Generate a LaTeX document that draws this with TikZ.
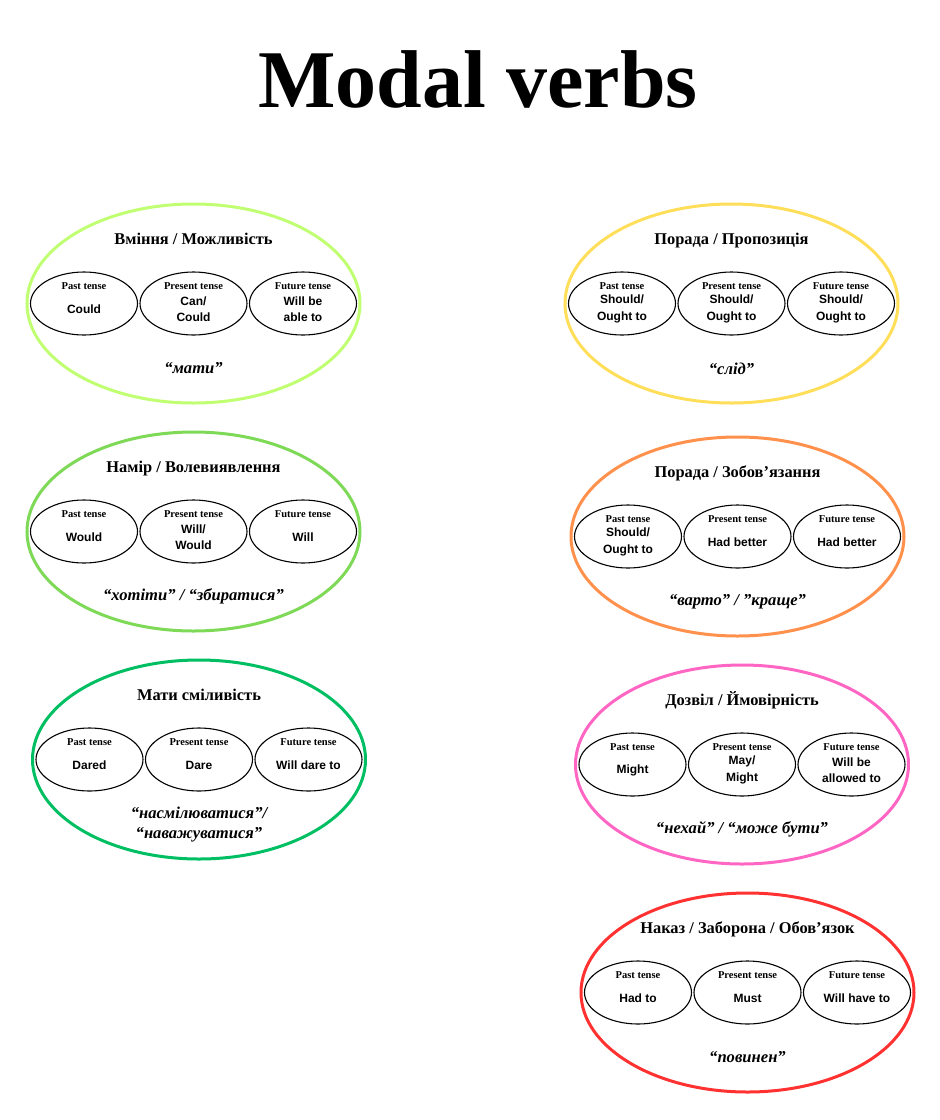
\documentclass[tikz,border=0pt]{standalone}
\usepackage{fontspec}
\setmainfont{Liberation Serif}
\newfontfamily\contfont{Liberation Sans}
\usetikzlibrary{shapes.geometric}
\definecolor{clime}{HTML}{C1FF72}
\definecolor{cyellow}{HTML}{FFDE59}
\definecolor{cgreen}{HTML}{7ED957}
\definecolor{corange}{HTML}{FF914D}
\definecolor{cdkgreen}{HTML}{00BF63}
\definecolor{cpink}{HTML}{FF66C4}
\definecolor{cred}{HTML}{FF3131}
\tikzset{
  bigell/.style={ellipse, draw=#1, line width=3pt, minimum width=333pt, minimum height=199pt, inner sep=0pt},
  smallell/.style={ellipse, draw=black, line width=1.1pt, minimum width=107pt, minimum height=63pt, inner sep=0pt},
  headtxt/.style={font=\bfseries\fontsize{16.4}{19}\selectfont, anchor=base, inner sep=0pt},
  tensetxt/.style={font=\bfseries\fontsize{10.5}{12}\selectfont, anchor=base, inner sep=0pt},
  wordtxt/.style={font=\contfont\bfseries\fontsize{12}{16.5}\selectfont, align=center, inner sep=0pt},
  glosstxt/.style={font=\bfseries\itshape\fontsize{16.6}{19.5}\selectfont, align=center, inner sep=0pt},
}
% #1 name, #2 cx, #3 cy, #4 colour, #5 heading, #6 past, #7 present, #8 future, #9 gloss
\newcommand\mvgroup[9]{%
  \node[bigell=#4] (#1) at (#2,#3) {};
  \node[headtxt] (#1-head) at (#2,#3-59.5) {#5};
  \node[smallell] (#1-past) at (#2-109.5,#3) {};
  \node[smallell] (#1-pres) at (#2,#3) {};
  \node[smallell] (#1-fut) at (#2+109.5,#3) {};
  \node[tensetxt] (#1-pastl) at (#2-109.5,#3-14.5) {Past tense};
  \node[tensetxt] (#1-presl) at (#2,#3-14.5) {Present tense};
  \node[tensetxt] (#1-futl) at (#2+109.5,#3-14.5) {Future tense};
  \node[wordtxt] (#1-pastw) at (#2-109.5,#3+5.5) {#6};
  \node[wordtxt] (#1-presw) at (#2,#3+5.5) {#7};
  \node[wordtxt] (#1-futw) at (#2+109.5,#3+5.5) {#8};
  \node[glosstxt] (#1-gloss) at (#2,#3+65) {#9};
}
\begin{document}
\begin{tikzpicture}[x=1pt,y=-1pt]
\path[use as bounding box] (0,0) rectangle (940,1120);
\node[font=\bfseries\fontsize{82}{86}\selectfont, anchor=base, inner sep=0pt] (title) at (478,107) {Modal verbs};
\mvgroup{g1}{193.5}{303.5}{clime}{Вміння / Можливість}{Could}{Can/\\Could}{Will be\\able to}{“мати”}
\mvgroup{g2}{731.5}{303.5}{cyellow}{Порада / Пропозиція}{Should/\\Ought to}{Should/\\Ought to}{Should/\\Ought to}{“слід”}
\mvgroup{g3}{193.5}{531.5}{cgreen}{Намір / Волевиявлення}{Would}{Will/\\Would}{Will}{“хотіти” / “збиратися”}
\mvgroup{g4}{737.5}{536.5}{corange}{Порада / Зобов’язання}{Should/\\Ought to}{Had better}{Had better}{“варто” / ”краще”}
\mvgroup{g5}{199}{759.5}{cdkgreen}{Мати сміливість}{Dared}{Dare}{Will dare to}{“насмілюватися”/\\“наважуватися”}
\mvgroup{g6}{742}{764.5}{cpink}{Дозвіл / Ймовірність}{Might}{May/\\Might}{Will be\\allowed to}{“нехай” / “може бути”}
\mvgroup{g7}{747.5}{992.5}{cred}{Наказ / Заборона / Обов’язок}{Had to}{Must}{Will have to}{“повинен”}
\end{tikzpicture}
\end{document}
